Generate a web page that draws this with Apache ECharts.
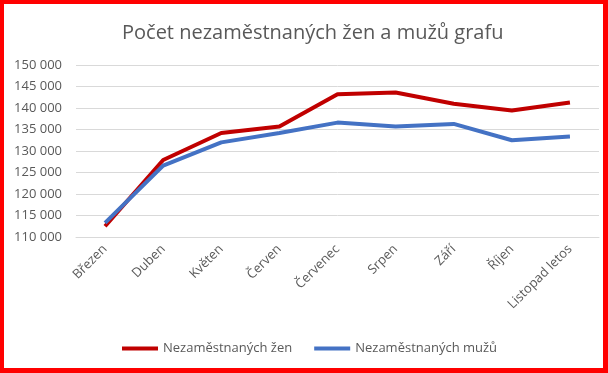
<!DOCTYPE html>
<html><head><meta charset="utf-8">
<script src="https://cdn.jsdelivr.net/npm/echarts@6/dist/echarts.min.js"></script>
<style>
html,body{margin:0;padding:0;background:#fff;}
#frame{width:608px;height:373px;box-sizing:border-box;border-style:solid;border-color:#ff0000;border-width:4px 5px 5px 4px;}
#chart{width:599px;height:364px;}
</style></head>
<body><div id="frame"><div id="chart"></div></div>
<script>
const titleText = "Počet nezaměstnaných žen a mužů grafu";
const categories = ["Březen","Duben","Květen","Červen","Červenec","Srpen","Září","Říjen","Listopad letos"];
const seriesNames = ["Nezaměstnaných žen","Nezaměstnaných mužů"];
const women = [112500,127900,134200,135700,143200,143600,141000,139400,141300];
const men = [113300,126600,132000,134200,136600,135700,136300,132500,133400];
const yMin = 110000, yMax = 150000, yStep = 5000;

const font = "'Open Sans', sans-serif";
const chart = echarts.init(document.getElementById('chart'), null, {renderer:'canvas'});
const fmt = v => String(v).replace(/\B(?=(\d{3})+(?!\d))/g, ' ');
chart.setOption({
  animation:false,
  backgroundColor:'#fff',
  title:{text:titleText,left:113,top:14,textStyle:{fontFamily:font,fontSize:20,fontWeight:'normal',color:'#595959'}},
  grid:{left:72,right:4,top:61,bottom:131},
  legend:{data:seriesNames,left:113,top:333,icon:'rect',itemWidth:36,itemHeight:4,itemGap:22,
    textStyle:{fontFamily:font,fontSize:13,color:'#595959'}},
  xAxis:{type:'category',data:categories,boundaryGap:true,
    axisLine:{show:true,lineStyle:{color:'#D9D9D9'}},axisTick:{show:false},
    axisLabel:{rotate:45,margin:10,fontFamily:font,fontSize:13,color:'#595959',interval:0}},
  yAxis:{type:'value',min:yMin,max:yMax,interval:yStep,
    axisLine:{show:false},axisTick:{show:false},
    splitLine:{lineStyle:{color:'#D9D9D9',width:1}},
    axisLabel:{margin:14,fontFamily:font,fontSize:13,color:'#595959',formatter:fmt}},
  series:[
    {name:seriesNames[0],type:'line',data:women,symbol:'none',lineStyle:{color:'#C00000',width:4},itemStyle:{color:'#C00000'},z:2},
    {name:seriesNames[1],type:'line',data:men,symbol:'none',lineStyle:{color:'#4472C4',width:4},itemStyle:{color:'#4472C4'},z:3}
  ]
});
</script></body></html>
